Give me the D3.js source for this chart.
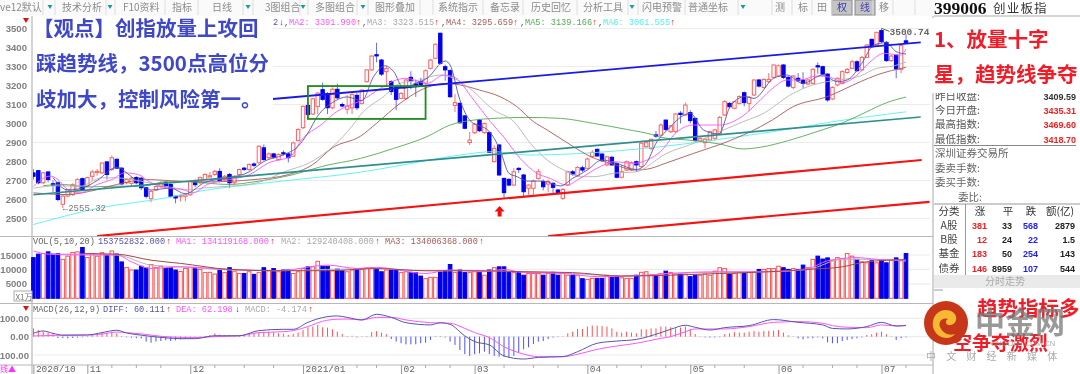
<!DOCTYPE html>
<html>
<head>
<meta charset="utf-8">
<style>
  html, body { margin: 0; padding: 0; background: #fff; overflow: hidden; }
  svg { display: block; filter: blur(0.5px); }
  text { font-family: "Noto Sans CJK SC", "Noto Sans", sans-serif; }
  .mono text, text.mono { font-family: "Liberation Mono", "DejaVu Sans Mono", monospace; }
</style>
</head>
<body>
<div id="chart"></div>
<script src="https://cdn.jsdelivr.net/npm/d3@7"></script>
<script>
// daily candles (179 sessions, 10 per row)
var opens = [
  2740,2752,2688,2745,2683,2688,2575,2618,2625,2650,
  2710,2670,2722,2745,2740,2798,2758,2812,2765,2688,
  2685,2716,2712,2662,2604,2650,2668,2688,2679,2617,
  2618,2617,2625,2695,2688,2705,2720,2732,2748,2705,
  2732,2688,2732,2765,2758,2787,2793,2872,2820,2840,
  2810,2846,2840,2828,2910,2978,3095,3050,3090,3178,
  3158,3083,3180,3100,3075,3082,3148,3106,3220,3282,
  3362,3334,3273,3220,3190,3132,3132,3243,3208,3220,
  3212,3290,3343,3475,3299,3278,3095,3106,3040,2900,
  2952,3018,2952,2952,2799,2887,2711,2706,2676,2764,
  2729,2659,2659,2711,2694,2681,2685,2650,2606,2676,
  2746,2724,2767,2764,2826,2864,2839,2782,2822,2790,
  2717,2755,2755,2799,2773,2878,2869,2940,2939,3018,
  2957,2957,3054,3045,3057,3027,2910,2899,2913,2922,
  2948,3045,3106,3080,3106,3162,3106,3150,3229,3190,
  3220,3243,3250,3308,3243,3190,3238,3229,3208,3211,
  3304,3299,3260,3129,3203,3211,3268,3290,3325,3282,
  3348,3443,3413,3489,3427,3331,3360,3285,3435
];
var closes = [
  2722,2688,2740,2705,2675,2600,2618,2652,2678,2705,
  2650,2715,2745,2748,2792,2732,2820,2765,2682,2705,
  2712,2688,2662,2617,2643,2668,2685,2670,2617,2608,
  2621,2625,2695,2678,2715,2732,2725,2748,2696,2722,
  2688,2722,2758,2760,2784,2780,2880,2810,2840,2823,
  2837,2842,2820,2898,2968,3090,3048,3130,3160,3127,
  3083,3180,3135,3092,3092,3152,3083,3176,3282,3355,
  3356,3260,3290,3168,3127,3158,3229,3225,3198,3203,
  3278,3334,3417,3317,3282,3141,3110,3004,2975,2913,
  2997,2962,3000,2848,2869,2729,2636,2676,2746,2759,
  2641,2676,2697,2746,2667,2694,2664,2632,2653,2746,
  2734,2769,2755,2813,2848,2829,2804,2825,2782,2717,
  2746,2799,2794,2782,2896,2899,2917,2936,2992,2969,
  2987,3050,3050,3097,3015,2910,2922,2917,2957,2966,
  3032,3115,3088,3115,3142,3110,3138,3229,3197,3232,
  3232,3308,3304,3243,3197,3250,3225,3211,3229,3285,
  3299,3260,3124,3190,3238,3273,3285,3325,3278,3348,
  3413,3404,3480,3431,3331,3355,3287,3410,3425
];
var highs = [
  2760,2755,2745,2750,2700,2695,2625,2655,2685,2712,
  2715,2720,2755,2760,2795,2802,2832,2815,2770,2712,
  2720,2722,2720,2665,2648,2675,2695,2695,2685,2620,
  2628,2635,2700,2705,2720,2738,2745,2755,2765,2730,
  2740,2728,2762,2772,2790,2795,2885,2890,2848,2845,
  2842,2858,2845,2905,2975,3095,3110,3135,3165,3215,
  3165,3190,3210,3110,3150,3165,3160,3180,3285,3358,
  3425,3340,3300,3228,3195,3165,3235,3275,3232,3240,
  3285,3340,3422,3478,3310,3285,3155,3112,3045,2955,
  3003,3025,3005,2958,2885,2890,2715,2712,2765,2770,
  2735,2680,2705,2762,2705,2705,2692,2655,2660,2752,
  2755,2775,2778,2820,2860,2868,2845,2830,2830,2795,
  2782,2805,2800,2805,2900,2905,2920,2960,3000,3020,
  2992,3055,3065,3110,3070,3030,2935,2925,2962,2972,
  3040,3122,3112,3120,3148,3168,3145,3232,3235,3238,
  3265,3310,3310,3312,3248,3255,3265,3270,3235,3290,
  3322,3305,3265,3195,3242,3280,3292,3335,3332,3355,
  3418,3446,3482,3500.74,3435,3362,3365,3415,3470
];
var lows = [
  2705,2680,2680,2690,2640,2590,2555.32,2612,2620,2645,
  2645,2665,2700,2725,2735,2705,2750,2762,2678,2680,
  2675,2680,2650,2605,2585,2645,2660,2660,2610,2580,
  2590,2590,2620,2665,2680,2700,2715,2725,2690,2700,
  2660,2680,2728,2750,2750,2770,2790,2805,2812,2815,
  2805,2830,2795,2825,2905,2970,3040,3045,3050,3120,
  3050,3075,3130,3085,3050,3050,3070,3100,3215,3278,
  3322,3250,3195,3150,3070,3128,3125,3180,3140,3195,
  3205,3285,3338,3310,3225,3135,3060,2998,2970,2887,
  2945,2955,2945,2845,2795,2725,2606,2670,2670,2740,
  2612,2625,2625,2705,2648,2640,2632,2625,2598,2670,
  2725,2720,2745,2758,2820,2825,2798,2775,2778,2712,
  2712,2750,2750,2745,2768,2872,2860,2925,2935,2960,
  2950,2950,3000,3040,3000,2905,2905,2870,2905,2910,
  2940,3040,3080,3075,3100,3090,3065,3145,3190,3185,
  3215,3238,3245,3235,3190,3180,3218,3185,3200,3205,
  3262,3255,3115,3125,3195,3205,3262,3285,3272,3278,
  3345,3398,3408,3425,3325,3325,3238,3265,3418.7
];
var volumes = [
  14100,15300,15500,16100,15300,15500,13500,14600,15900,16100,
  17600,14100,15500,14600,15800,15000,16400,15300,12600,10700,
  9800,9800,11100,10500,11700,10700,11100,10300,10600,9800,
  9300,10300,10700,10700,10000,8900,9000,8400,10000,8900,
  10600,9400,8600,8600,9200,8300,8900,10600,9500,10300,
  9200,9800,9800,8600,9200,10300,10900,10900,12800,11100,
  11100,9500,10100,9500,9200,9800,10300,10000,10500,10600,
  10300,9200,9800,9800,9800,8900,9200,9000,8900,7700,
  6800,7250,7250,9100,9400,11700,8900,9800,8900,8900,
  9200,8900,8000,9800,10600,10900,10900,8900,8900,8900,
  8000,8600,8600,8600,8000,8600,9000,8000,8600,8000,
  8000,8000,6800,6550,6900,6900,6900,8000,7250,7700,
  7100,6900,6900,8000,9000,9200,8000,8000,8600,9400,
  8900,8400,8400,8400,7500,8000,8000,8400,8000,9400,
  10600,10300,8400,8600,8900,8900,8900,9200,10000,10000,
  10300,10300,11100,10600,10000,10300,10000,11500,10600,13500,
  14600,13600,14000,13200,14100,13800,15500,14600,13500,12650,
  12300,13000,12300,13200,12300,13200,14000,13000,15500
];
var macdBars = [
  45,36,27,22,15,-8,-8,-9,-7,-5,
  -3,3,9,16,20,22,27,18,4,-3,
  -6,-8,-10,-27,-33,-27,-24,-20,-24,-20,
  -15,-13,-10,-5,-3,4,9,18,11,7,
  7,7,9,11,20,20,24,27,27,24,
  18,16,9,15,22,36,51,55,64,51,
  49,40,27,15,4,5,-4,2,3,25,
  30,22,13,-13,-27,-36,-42,-42,-42,-36,
  -33,-18,4,4,-5,-27,-45,-73,-95,-105,
  -95,-91,-82,-95,-105,-109,-109,-113,-105,-87,
  -69,-58,-40,-27,-24,-13,-5,-3,2,18,
  27,42,42,55,60,60,58,55,45,27,
  22,27,22,18,40,40,45,45,55,55,
  51,45,49,55,42,15,2,-4,-5,-5,
  -3,13,18,24,22,22,27,30,27,31,
  31,33,36,22,7,2,-9,-15,-9,-9,
  -4,-9,-31,-36,-36,-24,-18,-13,-9,-4,
  9,13,22,27,13,2,-18,-9,-4
];

// moving averages: session number + value, read at the bends
var ma1Idx = [4,7,10,13,17,20,24,28,31,35,40,44,47,51,54,56,58,61,64,67,69.4,71.8,73.5,75.5,77.9,80.3,84,85,87,89,93,94,95.3,97,98.7,100.7,104,107.5,110,113,116,119,123,125,127,130,131.3,134,136.7,139.8,142.2,145.2,147,151,153.7,157,161,164,166,169,171.4,174,176,178];
var ma1Val = [2715,2650,2660,2700,2770,2720,2650,2660,2630,2690,2715,2745,2800,2835,2880,2950,3040,3110,3140,3120,3247,3304,3273,3185,3211,3238,3329,3308,3124,3018,2957,2922,2852,2738,2720,2697,2697,2671,2711,2755,2808,2790,2758,2790,2896,2983,3018,3053,2966,2945,3092,3142,3132,3238,3255,3211,3255,3220,3229,3317,3413,3425,3378,3366];
var ma2Idx = [0,3.4,5,7,9.5,13,16,18.6,21.5,23.5,27,30.5,32.5,35.5,40,44,48,52.5,54.5,59,61.5,64,66.7,70.8,74,76,80.3,83.7,85.7,89.8,93.2,95.9,99.3,102.7,105.4,108.8,111.5,115.6,118.4,122.4,125.2,127.9,131.3,134.7,140,144.5,148.3,151,153.7,156.4,159.8,162.6,165.2,168,170.7,173.5,176.9,178];
var ma2Val = [2670,2723,2705,2652,2635,2679,2705,2740,2730,2696,2661,2652,2635,2679,2705,2730,2793,2828,2907,3000,3056,3091,3118,3185,3229,3238,3211,3255,3246,3124,3010,2930,2816,2738,2711,2676,2711,2773,2799,2790,2808,2852,2957,2992,2992,3036,3124,3190,3229,3229,3250,3243,3215,3255,3325,3369,3360,3392];
var ma3Idx = [0,5,9.5,14,16.7,22,26.8,32,34.8,40,45.7,51.5,56.3,61.5,65,66.7,71.4,74.8,78.8,82.9,85.7,89,93.9,98,101.4,104.8,108.2,111.6,114.3,118.4,123,126.6,128,134.7,140,145.6,148.3,155,159,161.9,168.7,172,175.5,178];
var ma3Val = [2660,2672,2670,2714,2714,2696,2670,2652,2661,2670,2688,2749,2793,2889,2986,3045,3141,3211,3229,3255,3238,3185,3071,3010,2895,2808,2755,2720,2720,2738,2746,2799,2825,2896,2957,3018,3045,3159,3203,3220,3250,3290,3303,3323.5];
var ma4Idx = [0,6.8,13,17,23,30,35.5,45,52,57,61,66.7,70,74.8,80.3,84.4,87,91,95.2,98.6,102,104.8,109.6,113.7,117.8,123,126,128,134.7,141.5,148.3,150.7,155,161.9,168.7,172,178];
var ma4Val = [2635,2626,2652,2679,2705,2696,2693,2705,2731,2784,2872,2933,3001,3106,3190,3211,3203,3176,3141,3089,3010,2966,2887,2825,2790,2755,2764,2782,2843,2904,2983,3018,3089,3141,3220,3255,3295.7];
var ma5Idx = [2,6,11,16.5,22,27.5,32,40,45,53,59,66.7,73.5,80.3,85,89.8,93.9,100.7,107.5,114.4,121,126.6,128,134.7,140,144.7,148.3,154,159.8,165.2,170,174,178];
var ma5Val = [2673,2679,2666,2670,2670,2696,2693,2679,2693,2731,2775,2816,2869,2931,2992,3018,3027,3032,3027,3000,2969,2939,2927,2910,2892,2866,2875,2910,2957,3005,3062,3109,3139];
var ma6Idx = [0,13.6,27.2,34,47.6,66.7,73.5,87,93.9,100.7,128,141.5,155,162,178];
var ma6Val = [2468,2556,2609,2644,2688,2744,2773,2834,2852,2834,2878,2922,2974,3005,3061.5];

var volMa1Idx = [0,3,10,17,20,24,30,40,50,60,66,70,80,85,92,96,100,108,115,125,128,140,150,158,162,168,172,178];
var volMa1Val = [16400,15300,15000,15000,12650,10350,10900,10000,9550,11500,10350,10700,8600,9800,9200,10000,8900,8600,7500,8000,8400,9200,9200,10300,13000,14100,13500,13200];
var volMa2Idx = [4,10,17,24,30,40,50,60,70,80,90,100,110,120,130,140,150,158,165,170,178];
var volMa2Val = [15300,15300,15000,11500,10900,9800,9550,10000,10300,9550,9550,9200,8600,7700,8600,9000,9200,10000,13500,13500,12900];
var volMa3Idx = [10,17,24,30,40,50,60,70,80,90,100,110,120,130,140,150,158,165,170,178];
var volMa3Val = [15500,15300,13200,12100,10000,9550,9550,10300,9550,9550,9200,8900,7700,8000,8600,9200,10000,10900,12650,13400];

var diffIdx = [0,2,4,6,11,14,17,19,22,26,30,33,37,42,46,51,53,56,59,62,64,67,70,73,76,81,83,85,88,90,93,96,100,103,108,111,115,119,123,128,130,133,135,138,141,146,151,156,161,163,166,170,173,176,178];
var diffVal = [18,31,18,8,9,22,35,20,8,-4,-11,-11,5,5,33,40,40,78,104,113,105,91,122,105,76,64,76,67,4,-27,-45,-105,-122,-113,-109,-82,-36,-24,-15,22,40,62,51,36,49,60,93,78,64,45,42,55,78,58,60.1];
var deaIdx = [0,6,11,14,17,19,22,26,30,33,37,42,46,51,53,56,59,62,64,67,70,73,76,81,85,88,90,93,96,100,103,108,111,115,119,123,128,130,133,135,138,141,146,151,156,161,163,166,170,173,176,178];
var deaVal = [4,8,9,14,25,22,15,2,-4,-5,0,4,22,27,33,55,84,95,96,91,105,105,91,76,73,45,22,-5,-55,-95,-109,-109,-96,-69,-51,-36,-9,0,27,42,42,42,55,78,82,73,60,51,49,64,58,62.2];

// ticks and labels
var priceTicks = [2500,2600,2700,2800,2900,3000,3100,3200,3300,3400,3500];
var priceGrid = [2500,2700,2900,3100,3300,3500];
var volTicks = [5000,10000,15000];
var macdTicks = [-100,0,100];
var monthIdx = [0,11,32,55,75,90,113,134,152,173];
var monthNames = ["2020/10","11","12","2021/01","02","03","04","05","06","07"];
var minorIdx = [5,16,21,26,37,43,49,61,66,70,80,85,96,102,107,119,124,129,139,145,157,163,168,178];

// hand drawn lines: [session, price] pairs
var blueLine = [[48.8,3129],[181,3427]];
var tealLine = [[0,2625],[181,3034]];
var redLineA = [[13,2408],[181.2,2808]];
var redLineB = [[105,2408],[182.8,2588]];
var boxArea = { from: 56, to: 80, top: 3197, bottom: 3024 };
var arrowAt = [95.1, 2566];

var toolbarLabels = ["ve12默认","技术分析","F10资料","指标","日线","3图组合","多图组合","图形叠加","系统指示","备忘录","历史回忆","分析工具","闪电预警","普通坐标","测","标","田","权","线","移"];
var toolbarX = [0,62,123,172,212,265,315,375,438,490,531,583,642,688,775,798,817,837,860,879];
var toolbarSeps = [43,55,106,115,165,198,243,253,300,308,357,368,420,433,483,523,577,628,638,685,738,772,792,812,832,873,893,915];
var toolbarMarks = [50,110,248,303,363,632,743];

var quoteLabels = ["昨日收盘:","今日开盘:","最高指数:","最低指数:"];
var quoteValues = ["3409.59","3435.31","3469.60","3418.70"];
var tableHead = ["涨","平","跌","额(亿)"];
var tableNames = ["A股","B股","基金","债券"];
var tableUp = [381,12,183,146];
var tableFlat = [33,24,50,8959];
var tableDown = [568,22,254,107];
var tableAmount = ["2879","1.5","143","544"];

var width = 1080, height = 374;

var svg = d3.select("#chart").append("svg")
  .attr("width", width)
  .attr("height", height);

var x = d3.scaleLinear().domain([0, opens.length - 1]).range([33.4, 906]);
var yPrice = d3.scaleLinear().domain([2500, 3500]).range([218.5, 28.5]);
var yVol = d3.scaleLinear().domain([0, 15000]).range([298.3, 255]);
var yMacd = d3.scaleLinear().domain([-100, 100]).range([355, 318.3]);

var downColor = "#0000ee", axisGray = "#808080";
var maColors = ["#5555a8", "#ff55ff", "#b4b4b4", "#a85858", "#55a855", "#55f0f0"];

svg.append("clipPath").attr("id", "mainClip").append("rect")
  .attr("x", 33).attr("y", 16).attr("width", 897).attr("height", 220);

/* ---------- grid + frame ---------- */
function gridLines(vals, scale) {
  svg.append("g").selectAll("line").data(vals).enter().append("line")
    .attr("x1", 33).attr("x2", 930)
    .attr("y1", function (d) { return scale(d); })
    .attr("y2", function (d) { return scale(d); })
    .attr("stroke", "#ececec").attr("stroke-width", 1.2);
}
gridLines(priceGrid, yPrice);
gridLines(volTicks, yVol);
gridLines(macdTicks, yMacd);

var frame = [[0, 236.5, 933, 236.5], [0, 303.5, 933, 303.5], [0, 365, 933, 365], [32, 16, 32, 374], [933, 16, 933, 374]];
svg.append("g").selectAll("line").data(frame).enter().append("line")
  .attr("x1", function (d) { return d[0]; }).attr("y1", function (d) { return d[1]; })
  .attr("x2", function (d) { return d[2]; }).attr("y2", function (d) { return d[3]; })
  .attr("stroke", "#b8b8b8").attr("stroke-width", 1.2);

/* ---------- candles ---------- */
var candles = svg.append("g").attr("clip-path", "url(#mainClip)");
var candleW = 3.4;

candles.selectAll(".wick").data(opens).enter().append("line")
  .attr("class", "wick")
  .attr("x1", function (d, i) { return x(i); })
  .attr("x2", function (d, i) { return x(i); })
  .attr("y1", function (d, i) { return yPrice(highs[i]); })
  .attr("y2", function (d, i) { return yPrice(lows[i]); })
  .attr("stroke", function (d, i) { return closes[i] >= d ? "#ff7070" : "#6a6af0"; })
  .attr("stroke-width", 1);

candles.selectAll(".body").data(opens).enter().append("rect")
  .attr("class", "body")
  .attr("x", function (d, i) { return x(i) - candleW / 2; })
  .attr("width", candleW)
  .attr("y", function (d, i) { return yPrice(Math.max(d, closes[i])); })
  .attr("height", function (d, i) { return Math.max(1.2, Math.abs(yPrice(d) - yPrice(closes[i]))); })
  .attr("fill", function (d, i) { return closes[i] >= d ? "#fff" : downColor; })
  .attr("stroke", function (d, i) { return closes[i] >= d ? "#ff6060" : downColor; })
  .attr("stroke-width", 1);

/* ---------- moving averages ---------- */
function drawCurve(parent, idx, vals, yScale, color, w) {
  var pts = idx.map(function (d, i) { return [d, vals[i]]; });
  var line = d3.line()
    .x(function (d) { return x(d[0]); })
    .y(function (d) { return yScale(d[1]); })
    .curve(d3.curveMonotoneX);
  parent.append("path").datum(pts)
    .attr("d", line)
    .attr("fill", "none")
    .attr("stroke", color)
    .attr("stroke-width", w);
}
var maLines = [[ma6Idx, ma6Val, 5], [ma5Idx, ma5Val, 4], [ma4Idx, ma4Val, 3], [ma3Idx, ma3Val, 2], [ma2Idx, ma2Val, 1], [ma1Idx, ma1Val, 0]];
maLines.forEach(function (m) {
  drawCurve(candles, m[0], m[1], yPrice, maColors[m[2]], 0.9);
});

/* ---------- trend lines, box, arrow ---------- */
function trend(pts, color, w) {
  candles.append("line")
    .attr("x1", x(pts[0][0])).attr("y1", yPrice(pts[0][1]))
    .attr("x2", x(pts[1][0])).attr("y2", yPrice(pts[1][1]))
    .attr("stroke", color).attr("stroke-width", w);
}
trend(tealLine, "#2f8f8f", 1.6);
trend(blueLine, "#1a1ae6", 1.8);
trend(redLineA, "#f41414", 2.2);
trend(redLineB, "#f41414", 2.2);

candles.append("rect")
  .attr("x", x(boxArea.from)).attr("width", x(boxArea.to) - x(boxArea.from))
  .attr("y", yPrice(boxArea.top)).attr("height", yPrice(boxArea.bottom) - yPrice(boxArea.top))
  .attr("fill", "none").attr("stroke", "#1c8c1c").attr("stroke-width", 1.8);

svg.append("path")
  .attr("transform", "translate(" + x(arrowAt[0]) + "," + yPrice(arrowAt[1]) + ")")
  .attr("d", "M0,0 L5,5.5 L2,5.5 L2,10.5 L-2,10.5 L-2,5.5 L-5,5.5 Z")
  .attr("fill", "#f01010");

/* ---------- volume ---------- */
var volW = 3.6;
svg.append("g").selectAll("rect").data(volumes).enter().append("rect")
  .attr("x", function (d, i) { return x(i) - volW / 2; })
  .attr("width", volW)
  .attr("y", function (d) { return yVol(d); })
  .attr("height", function (d) { return yVol(0) - yVol(d); })
  .attr("fill", function (d, i) { return closes[i] >= opens[i] ? "#fff" : downColor; })
  .attr("stroke", function (d, i) { return closes[i] >= opens[i] ? "#ff5050" : downColor; })
  .attr("stroke-width", 1);
var volMas = svg.append("g");
drawCurve(volMas, volMa2Idx, volMa2Val, yVol, "#b4b4b4", 1);
drawCurve(volMas, volMa1Idx, volMa1Val, yVol, "#ff55ff", 1);
drawCurve(volMas, volMa3Idx, volMa3Val, yVol, "#a04848", 1);

/* ---------- macd ---------- */
svg.append("g").selectAll("line").data(macdBars).enter().append("line")
  .attr("x1", function (d, i) { return x(i); })
  .attr("x2", function (d, i) { return x(i); })
  .attr("y1", yMacd(0))
  .attr("y2", function (d) { return yMacd(d); })
  .attr("stroke", function (d) { return d >= 0 ? "#ff5050" : "#5050ff"; })
  .attr("stroke-width", 1);
var macdLines = svg.append("g");
drawCurve(macdLines, deaIdx, deaVal, yMacd, "#ff55ff", 1);
drawCurve(macdLines, diffIdx, diffVal, yMacd, "#5555a8", 1);

/* ---------- axes ---------- */
function styleAxis(g) {
  g.select(".domain").remove();
  g.selectAll("text").attr("fill", axisGray).style("font-family", "Liberation Sans").style("font-size", "9.6px").style("font-weight", "bold");
}
svg.append("g").attr("transform", "translate(32,0)")
  .call(d3.axisLeft(yPrice).tickValues(priceTicks).tickSize(0).tickPadding(5).tickFormat(d3.format("d")))
  .call(styleAxis);
svg.append("g").attr("transform", "translate(32,0)")
  .call(d3.axisLeft(yVol).tickValues(volTicks).tickSize(0).tickPadding(5).tickFormat(d3.format("d")))
  .call(styleAxis);
svg.append("g").attr("transform", "translate(32,0)")
  .call(d3.axisLeft(yMacd).tickValues(macdTicks).tickSize(0).tickPadding(3).tickFormat(function (d) { return Math.abs(d).toFixed(2); }))
  .call(styleAxis);

var dateAxis = d3.axisBottom(x).tickValues(monthIdx).tickSize(9).tickPadding(0)
  .tickFormat(function (d, i) { return monthNames[i]; });
svg.append("g").attr("transform", "translate(0,365)").call(dateAxis)
  .call(function (g) {
    g.select(".domain").remove();
    g.selectAll("line").attr("stroke", "#999");
    g.selectAll("text").attr("text-anchor", "start").attr("x", 2).attr("y", 0).attr("dy", "7.4px")
      .attr("fill", "#666").style("font-family", "Liberation Mono").style("font-size", "9.5px");
  });
svg.append("g").selectAll("line").data(minorIdx).enter().append("line")
  .attr("x1", function (d) { return x(d); }).attr("x2", function (d) { return x(d); })
  .attr("y1", 365).attr("y2", 368).attr("stroke", "#aaa");

/* ---------- legends ---------- */
function mono(parent, s, px, py, color, size) {
  return parent.append("text").attr("class", "mono")
    .attr("x", px).attr("y", py).attr("fill", color)
    .style("font-size", (size || 8.6) + "px").text(s);
}
var legend = svg.append("g");
mono(legend, "2", 273, 25, "#5555a8");
mono(legend, "↓", 279, 25, "#2222ee");
mono(legend, ",", 284, 25, "#666");
mono(legend, "MA2: 3391.990", 289, 25, "#ff55ff");
mono(legend, "↑", 356, 25, "#ee2222");
mono(legend, ",", 362, 25, "#666");
mono(legend, "MA3: 3323.515", 367, 25, "#a8a8a8");
mono(legend, "↑", 434, 25, "#ee2222");
mono(legend, ",", 441, 25, "#666");
mono(legend, "MA4: 3295.659", 446, 25, "#a85858");
mono(legend, "↑", 513, 25, "#ee2222");
mono(legend, ",", 520, 25, "#666");
mono(legend, "MA5: 3139.166", 525, 25, "#55a855");
mono(legend, "↑", 592, 25, "#ee2222");
mono(legend, ",", 598, 25, "#666");
mono(legend, "MA6: 3061.555", 603, 25, "#55f0f0");
mono(legend, "↑", 670, 25, "#ee2222");

mono(legend, "VOL(5,10,20)", 33, 244, "#666");
mono(legend, "153752832.000", 98, 244, "#5555a8");
mono(legend, "↑", 166, 244, "#ee2222");
mono(legend, "MA1: 134119168.000", 176, 244, "#ff55ff");
mono(legend, "↑", 270, 244, "#ee2222");
mono(legend, "MA2: 129240408.000", 281, 244, "#a8a8a8");
mono(legend, "↑", 375, 244, "#ee2222");
mono(legend, "MA3: 134006368.000", 385, 244, "#a85858");
mono(legend, "↑", 479, 244, "#ee2222");

mono(legend, "MACD(26,12,9)", 33, 312, "#666");
mono(legend, "DIFF: 60.111", 103, 312, "#5555a8");
mono(legend, "↑", 166, 312, "#ee2222");
mono(legend, "DEA: 62.198", 176, 312, "#ff55ff");
mono(legend, "↓", 235, 312, "#2222ee");
mono(legend, "MACD: -4.174", 245, 312, "#a8a8a8");
mono(legend, "↑", 308, 312, "#ee2222");

// price notes
mono(legend, "←2555.32", x(6), 211, "#777", 9);
mono(legend, "3500.74", x(173) + 8, 35, "#666", 9.5).style("font-weight", "bold");
svg.append("path")
  .attr("d", "M" + x(173) + "," + yPrice(3500.74) + " l8,3")
  .attr("stroke", "#666").attr("fill", "none");

svg.append("path").attr("d", "M23,18 h6 l-3,5 Z").attr("fill", "#e01010");
svg.append("path").attr("d", "M23,306 h6 l-3,5 Z").attr("fill", "#e01010");
svg.append("rect").attr("x", 14).attr("y", 291).attr("width", 18).attr("height", 10)
  .attr("fill", "#fff").attr("stroke", "#aaa");
svg.append("text").attr("x", 15.5).attr("y", 299.5).attr("fill", "#777").style("font-size", "8px").text("X1万");
svg.append("text").attr("x", 0).attr("y", 372).attr("fill", "#ff30ff").style("font-size", "8px").text("线▲");

/* ---------- toolbar ---------- */
svg.append("rect").attr("x", 0).attr("y", 0).attr("width", 933).attr("height", 16).attr("fill", "#fafafa");
svg.append("rect").attr("x", 832).attr("y", 0).attr("width", 20).attr("height", 15).attr("fill", "#c4c4c4").attr("stroke", "#888");
svg.append("rect").attr("x", 855).attr("y", 0).attr("width", 20).attr("height", 15).attr("fill", "#c4c4c4").attr("stroke", "#888");
svg.append("g").selectAll("line").data(toolbarSeps).enter().append("line")
  .attr("x1", function (d) { return d; }).attr("x2", function (d) { return d; })
  .attr("y1", 0).attr("y2", 15).attr("stroke", "#dedede");
svg.append("g").selectAll("path").data(toolbarMarks).enter().append("path")
  .attr("d", function (d) { return "M" + (d - 2.5) + ",5 h5 l-2.5,4 Z"; })
  .attr("fill", "#1a9a9a");
svg.append("g").selectAll("text").data(toolbarLabels).enter().append("text")
  .attr("x", function (d, i) { return toolbarX[i]; })
  .attr("y", 11)
  .attr("fill", function (d) { return d == "权" || d == "线" ? "#3c3cb0" : "#8c8c8c"; })
  .style("font-size", "10px")
  .text(function (d) { return d; });

/* ---------- right panel ---------- */
var panel = svg.append("g");
panel.append("rect").attr("x", 934).attr("y", 0).attr("width", 146).attr("height", 374).attr("fill", "#fff");
panel.append("line").attr("x1", 934).attr("x2", 1080).attr("y1", 16).attr("y2", 16).attr("stroke", "#aaa");
panel.append("text").attr("x", 934).attr("y", 14).attr("fill", "#111")
  .style("font-family", "Liberation Serif").style("font-weight", "bold").style("font-size", "17.5px").text("399006");
panel.append("text").attr("x", 993).attr("y", 12.5).attr("fill", "#333").style("font-size", "12.5px").style("letter-spacing", "1.2px").text("创业板指");

quoteLabels.forEach(function (d, i) {
  var py = 100 + i * 14.2;
  panel.append("text").attr("x", 935).attr("y", py).attr("fill", "#555").style("font-size", "10.5px").text(d);
  panel.append("text").attr("x", 1076).attr("y", py).attr("text-anchor", "end")
    .attr("fill", i == 0 ? "#333" : "#f02020")
    .style("font-family", "Liberation Sans").style("font-weight", "bold").style("font-size", "9px").text(quoteValues[i]);
});
panel.append("line").attr("x1", 934).attr("x2", 1076).attr("y1", 145.5).attr("y2", 145.5).attr("stroke", "#888");
var lowerLabels = ["深圳证券交易所","委卖手数:","委买手数:","委比:"];
lowerLabels.forEach(function (d, i) {
  panel.append("text").attr("x", i == 3 ? 958 : 935).attr("y", 157 + i * 14.5)
    .attr("fill", "#666").style("font-size", "10.5px").text(d);
});
panel.append("line").attr("x1", 934).attr("x2", 1080).attr("y1", 204).attr("y2", 204).attr("stroke", "#999");
panel.append("line").attr("x1", 965.5).attr("x2", 965.5).attr("y1", 204).attr("y2", 275).attr("stroke", "#999");

var tableRowY = [229, 243, 257, 272];
var headX = [980, 1008, 1031, 1060];
panel.append("text").attr("x", 949).attr("y", 215).attr("text-anchor", "middle").attr("fill", "#333").style("font-size", "10.5px").text("分类");
tableHead.forEach(function (d, i) {
  panel.append("text").attr("x", headX[i]).attr("y", 215).attr("text-anchor", "middle").attr("fill", "#333").style("font-size", "10.5px").text(d);
});
function tableCol(vals, px, color) {
  vals.forEach(function (d, i) {
    panel.append("text").attr("x", px).attr("y", tableRowY[i]).attr("text-anchor", "end").attr("fill", color)
      .style("font-family", "Liberation Sans").style("font-weight", "bold").style("font-size", "9px").text(d);
  });
}
tableNames.forEach(function (d, i) {
  panel.append("text").attr("x", 949).attr("y", tableRowY[i]).attr("text-anchor", "middle").attr("fill", "#444").style("font-size", "10.5px").text(d);
});
tableCol(tableUp, 987, "#f02020");
tableCol(tableFlat, 1012, "#222");
tableCol(tableDown, 1038, "#2020f0");
tableCol(tableAmount, 1075, "#222");

panel.append("rect").attr("x", 934).attr("y", 275).attr("width", 146).attr("height", 13).attr("fill", "#eaeaea");
panel.append("text").attr("x", 1005).attr("y", 285).attr("text-anchor", "middle").attr("fill", "#aaa").style("font-size", "10px").text("分时走势");
panel.append("line").attr("x1", 934).attr("x2", 943).attr("y1", 290).attr("y2", 290).attr("stroke", "#999");

/* ---------- big captions ---------- */
svg.append("rect").attr("x", 33).attr("y", 16).attr("width", 240).attr("height", 106).attr("fill", "#fff");
var captions = ["【观点】创指放量上攻回", "踩趋势线，3500点高位分", "歧加大，控制风险第一。"];
var captionX = [33, 36, 36];
var captionY = [36, 71, 107];
svg.append("g").selectAll("text").data(captions).enter().append("text")
  .attr("x", function (d, i) { return captionX[i]; })
  .attr("y", function (d, i) { return captionY[i]; })
  .attr("fill", "#3f48c8")
  .style("font-size", "20.5px").style("font-weight", "bold")
  .text(function (d) { return d; });

svg.append("rect").attr("x", 930).attr("y", 18).attr("width", 150).attr("height", 75).attr("fill", "#fff");
var redCaptions = ["1、放量十字", "星，趋势线争夺"];
var redCaptionY = [47, 82];
svg.append("g").selectAll("text").data(redCaptions).enter().append("text")
  .attr("x", 934)
  .attr("y", function (d, i) { return redCaptionY[i]; })
  .attr("fill", "#f01c28")
  .style("font-size", "20.5px").style("font-weight", "bold")
  .text(function (d) { return d; });

svg.append("text").attr("x", 977).attr("y", 316).attr("fill", "#f01c28")
  .style("font-size", "20.5px").style("font-weight", "bold").text("趋势指标多");
svg.append("text").attr("x", 953).attr("y", 350).attr("fill", "#f01c28")
  .style("font-size", "19px").style("font-weight", "bold").text("空争夺激烈");

/* ---------- watermark ---------- */
var mark = svg.append("g");
mark.append("circle").attr("cx", 946).attr("cy", 323).attr("r", 22).attr("fill", "#c8361a");
mark.append("path")
  .attr("d", "M933,327 C931,315 941,307 951,311 C958,314 958,323 951,325 C946,326 944,321 948,319 C942,317 938,322 940,327 C943,334 950,336 955,334 C950,341 936,339 933,327 Z")
  .attr("fill", "#f6b934");
mark.append("text").attr("x", 1020).attr("y", 333).attr("text-anchor", "middle").attr("fill", "#7c7c7c").attr("fill-opacity", 0.78)
  .style("font-size", "30px").style("font-weight", "bold").text("中金网");
mark.append("text").attr("x", 1023).attr("y", 346).attr("text-anchor", "middle").attr("fill", "#999").attr("fill-opacity", 0.8)
  .style("font-family", "Liberation Sans").style("font-size", "7.5px").text("CNGOLD.COM.CN");
mark.append("text").attr("x", 926).attr("y", 360).attr("fill", "#aaa")
  .style("font-size", "10px").style("letter-spacing", "10.2px").text("中文财经新媒体");
</script>
</body>
</html>
